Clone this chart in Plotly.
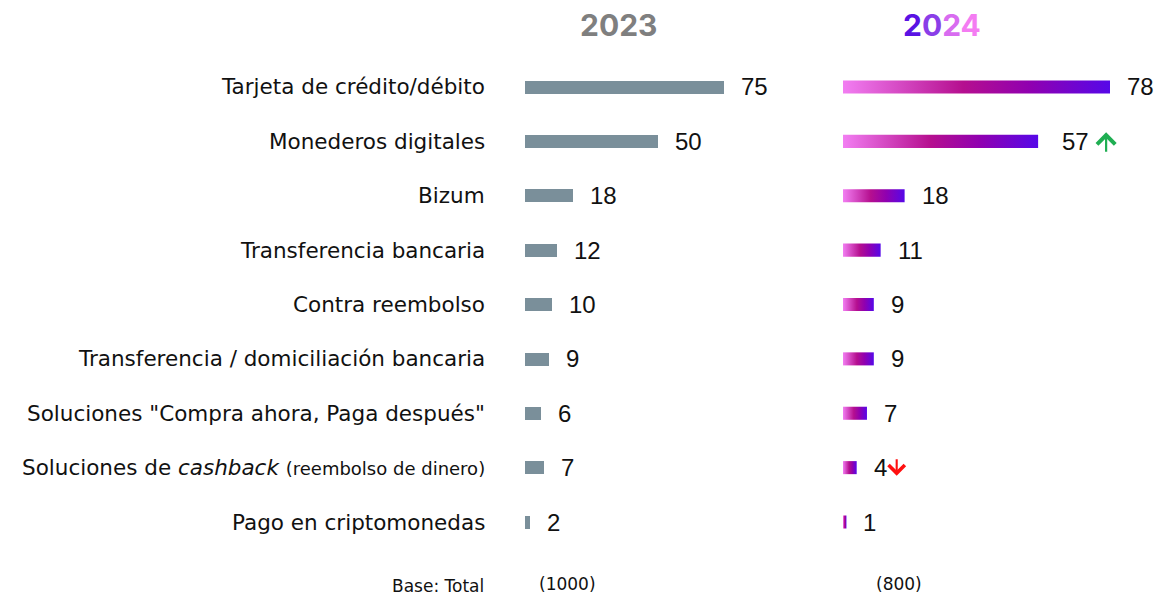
import plotly.graph_objects as go

categories = [
    "Tarjeta de crédito/débito",
    "Monederos digitales",
    "Bizum",
    "Transferencia bancaria",
    "Contra reembolso",
    "Transferencia / domiciliación bancaria",
    'Soluciones "Compra ahora, Paga después"',
    "Soluciones de <i>cashback</i> <span style='font-size:18px'>(reembolso de dinero)</span>",
    "Pago en criptomonedas",
]
values_2023 = [75, 50, 18, 12, 10, 9, 6, 7, 2]
values_2024 = [78, 57, 18, 11, 9, 9, 7, 4, 1]
changes_2024 = ["", "up", "", "", "", "", "", "down", ""]
bases = ["(1000)", "(800)"]

W, H = 1155, 596
LABEL_FONT = "DejaVu Sans"
NUM_FONT = "Liberation Sans"
GRAY_BAR = "#7a8f9a"
GRAD = [[0.0, "#f27ef2"], [0.45, "#b50f8f"], [0.7, "#9000b0"], [1.0, "#5608e8"]]

def px(x):
    return x / W

def py(y):
    return 1 - y / H

n = len(categories)
ys = list(range(n))
bh = 0.24

fig = go.Figure()

# 2023 bars
fig.add_trace(go.Bar(
    x=values_2023, y=ys, orientation="h", width=bh,
    marker=dict(color=GRAY_BAR, line=dict(width=0)),
    xaxis="x", yaxis="y", hoverinfo="skip", showlegend=False,
))

# 2024 gradient bars
for i, v in enumerate(values_2024):
    fig.add_trace(go.Scatter(
        x=[0, v, v, 0, 0],
        y=[i - bh / 2, i - bh / 2, i + bh / 2, i + bh / 2, i - bh / 2],
        fill="toself", mode="none",
        fillgradient=dict(type="horizontal", colorscale=GRAD),
        xaxis="x2", yaxis="y", hoverinfo="skip", showlegend=False,
    ))

annotations = []
for i, c in enumerate(categories):
    annotations.append(dict(
        x=px(487), xref="paper", y=i, yref="y", text=c, showarrow=False,
        xanchor="right", yanchor="middle", font=dict(size=21.5, color="#111111", family=LABEL_FONT),
    ))
for i, v in enumerate(values_2023):
    annotations.append(dict(
        x=v, xref="x", y=i, yref="y", text=str(v), showarrow=False, xshift=15,
        xanchor="left", yanchor="middle", font=dict(size=24, color="#111111", family=NUM_FONT),
    ))
for i, v in enumerate(values_2024):
    shift = 22 if changes_2024[i] == "up" else 15
    annotations.append(dict(
        x=v, xref="x2", y=i, yref="y", text=str(v), showarrow=False, xshift=shift,
        xanchor="left", yanchor="middle", font=dict(size=24, color="#111111", family=NUM_FONT),
    ))
    if changes_2024[i] == "up":
        annotations.append(dict(
            x=v, xref="x2", y=i, yref="y", text="", showarrow=True,
            xshift=shift + 46, yshift=9, ax=0, ay=21, axref="pixel", ayref="pixel",
            arrowhead=4, arrowsize=1.6, arrowwidth=2.2, arrowcolor="#1fae52",
        ))
    elif changes_2024[i] == "down":
        annotations.append(dict(
            x=v, xref="x2", y=i, yref="y", text="", showarrow=True,
            xshift=shift + 25, yshift=-8, ax=0, ay=-18, axref="pixel", ayref="pixel",
            arrowhead=4, arrowsize=1.5, arrowwidth=2.1, arrowcolor="#ff1010",
        ))

# titles
annotations.append(dict(
    x=px(618), y=py(25), xref="paper", yref="paper", text="<b>2023</b>", showarrow=False,
    xanchor="center", yanchor="middle", font=dict(size=30, color="#7f7f7f", family="Inter"),
))
annotations.append(dict(
    x=px(942), y=py(25), xref="paper", yref="paper",
    text=("<b><span style='color:#5a12e4'>2</span><span style='color:#8a3ee8'>0</span>"
          "<span style='color:#d86cf0'>2</span><span style='color:#f47cf2'>4</span></b>"),
    showarrow=False, xanchor="center", yanchor="middle", font=dict(size=30, family="Inter"),
))

# bases
annotations.append(dict(
    x=px(486), y=py(586), xref="paper", yref="paper", text="Base: Total", showarrow=False,
    xanchor="right", yanchor="middle", font=dict(size=17, color="#111111", family=LABEL_FONT),
))
annotations.append(dict(
    x=px(567), y=py(584), xref="paper", yref="paper", text=bases[0], showarrow=False,
    xanchor="center", yanchor="middle", font=dict(size=17, color="#111111", family=LABEL_FONT),
))
annotations.append(dict(
    x=px(899), y=py(584), xref="paper", yref="paper", text=bases[1], showarrow=False,
    xanchor="center", yanchor="middle", font=dict(size=17, color="#111111", family=LABEL_FONT),
))

row_px = 54.4
top = 87 - row_px / 2
bot = 522 + row_px / 2

axis_common = dict(showgrid=False, zeroline=False, showticklabels=False, showline=False, fixedrange=True)
fig.update_layout(
    width=W, height=H,
    margin=dict(l=0, r=0, t=0, b=0),
    paper_bgcolor="white", plot_bgcolor="white",
    xaxis=dict(domain=[px(525), px(800)], range=[0, 275 / (199 / 75)], anchor="y", **axis_common),
    xaxis2=dict(domain=[px(843), 1.0], range=[0, (1155 - 843) / (267 / 78)], anchor="y", **axis_common),
    yaxis=dict(domain=[py(bot), py(top)], range=[n - 0.5, -0.5], **axis_common),
    annotations=annotations,
    bargap=0,
)

fig.write_html(
    "out.html",
    config={"displayModeBar": False},
    post_script="document.body.style.margin='0';document.body.style.overflow='hidden';",
)
